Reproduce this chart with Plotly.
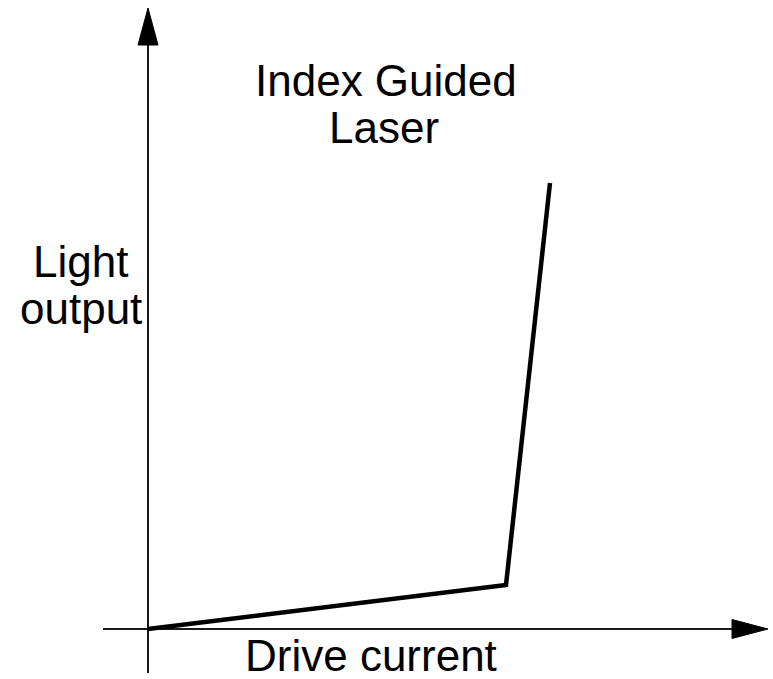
import plotly.graph_objects as go

# Light–current characteristic of an index guided laser (arbitrary units)
drive_current = [0.0, 35.8, 40.2]
light_output = [0.0, 4.4, 44.6]

title_lines = ["Index Guided", "Laser"]
y_label_lines = ["Light", "output"]
x_label = "Drive current"

FONT = "Liberation Sans, Arial, sans-serif"
INK = "#000000"

fig = go.Figure()

fig.add_trace(go.Scatter(
    x=drive_current, y=light_output, mode="lines",
    line=dict(color=INK, width=4.5),
    hoverinfo="skip", showlegend=False,
))

# Hand-drawn style axes with filled arrowheads
axis_line = dict(color="#1a1a1a", width=2)
fig.add_shape(type="line", x0=0, y0=-4.4, x1=0, y1=58.6, line=axis_line, layer="below")
fig.add_shape(type="line", x0=-4.5, y0=0, x1=58.6, y1=0, line=axis_line, layer="below")
fig.add_shape(type="path", path="M -1.0 58.4 L 0 62.1 L 1.0 58.4 Z",
              fillcolor=INK, line=dict(color=INK, width=1))
fig.add_shape(type="path", path="M 58.4 -0.95 L 62.0 0 L 58.4 0.95 Z",
              fillcolor=INK, line=dict(color=INK, width=1))

def label(text, x, y):
    fig.add_annotation(text=text, x=x, y=y, xref="x", yref="y",
                       xanchor="center", yanchor="middle", showarrow=False,
                       font=dict(family=FONT, size=44, color=INK))

label(title_lines[0], 23.8, 54.9)
label(title_lines[1], 23.6, 50.2)
label(y_label_lines[0], -6.8, 36.75)
label(y_label_lines[1], -6.7, 32.1)
label(x_label, 22.3, -2.6)

fig.update_layout(
    width=773, height=679,
    margin=dict(l=0, r=0, t=0, b=0),
    paper_bgcolor="white", plot_bgcolor="white",
    xaxis=dict(range=[-14.8, 62.5], visible=False, fixedrange=True),
    yaxis=dict(range=[-5.0, 62.9], visible=False, fixedrange=True),
    showlegend=False,
)

fig.write_html("out.html")
